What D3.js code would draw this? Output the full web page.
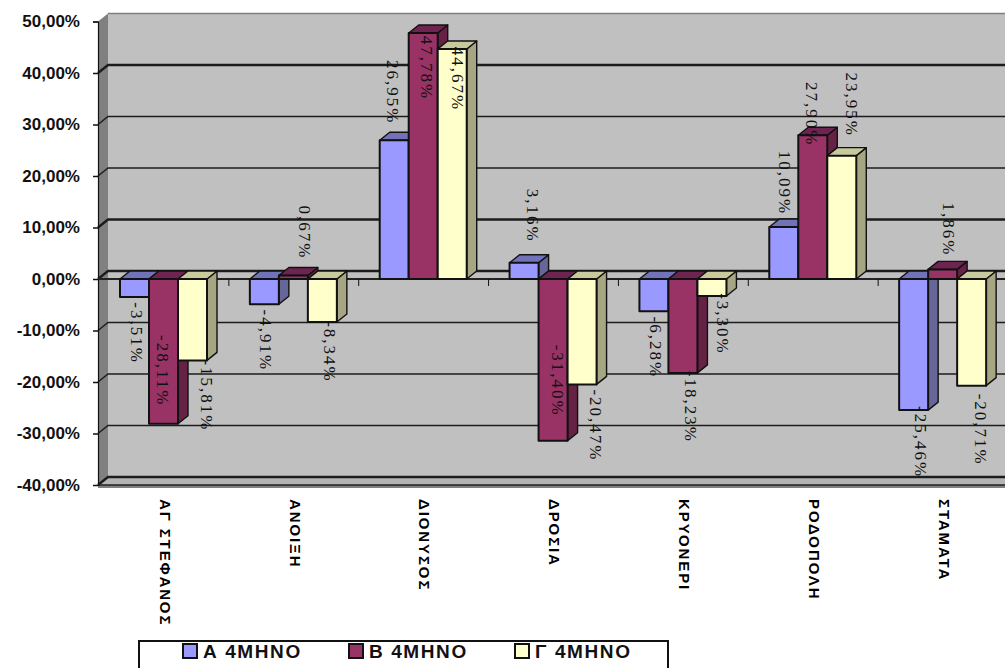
<!DOCTYPE html>
<html>
<head>
<meta charset="utf-8">
<script src="https://cdn.jsdelivr.net/npm/d3@7"></script>
<style>
html, body { margin: 0; padding: 0; background: #fff; }
svg { display: block; }
.ytick { font: bold 17px "Liberation Sans", sans-serif; }
.dlabel { font: 17px "Liberation Serif", serif; letter-spacing: 2px; fill: #111; }
.cat { font: bold 15px "Liberation Sans", sans-serif; letter-spacing: 1.9px; }
.leg { font: bold 19px "Liberation Sans", sans-serif; letter-spacing: 1.6px; }
</style>
</head>
<body>
<svg width="1005" height="668"></svg>
<script>
let categories = ["ΑΓ ΣΤΕΦΑΝΟΣ", "ΑΝΟΙΞΗ", "ΔΙΟΝΥΣΟΣ", "ΔΡΟΣΙΑ", "ΚΡΥΟΝΕΡΙ", "ΡΟΔΟΠΟΛΗ", "ΣΤΑΜΑΤΑ"];
let seriesNames = ["Α 4ΜΗΝΟ", "Β 4ΜΗΝΟ", "Γ 4ΜΗΝΟ"];
let valuesA = [-3.51, -4.91, 26.95, 3.16, -6.28, 10.09, -25.46];
let valuesB = [-28.11, 0.67, 47.78, -31.40, -18.23, 27.90, 1.86];
let valuesC = [-15.81, -8.34, 44.67, -20.47, -3.30, 23.95, -20.71];
let yTicks = [-40, -30, -20, -10, 0, 10, 20, 30, 40, 50];

// hand placement of the rotated value labels: distance from the bar end, and sideways shift
let labelDyA = [36, 36, -48, -47, 36, -44, 32];
let labelDyB = [-53, -43, 35, -60, 34, -21, -40];
let labelDyC = [35, 30, 30, 41, 28, -51, 44];
let labelDxA = [2, 2, -1, 9, 2, 1, 7];
let labelDxB = [-1, 12, 4, 5, 8, -1, 6];
let labelDxC = [14, 8, 6, 14, 11, 10, 9];

let front = { face: "#9999ff", side: "#666699", top: "#7272b8" };
let colors = [
    front,
    { face: "#993366", side: "#662244", top: "#6e2450" },
    { face: "#ffffcc", side: "#a6a682", top: "#c9c99e" }
];
let series = [valuesA, valuesB, valuesC];
let labelDy = [labelDyA, labelDyB, labelDyC];
let labelDx = [labelDxA, labelDxB, labelDxC];

let depthX = 10, depthY = -8;

let svg = d3.select("svg");
let x0 = d3.scaleBand().domain(categories).range([99, 1008]);
let x1 = d3.scaleBand().domain(d3.range(3)).range([21, 108]);
let y = d3.scaleLinear().domain([-40, 50]).range([485, 21.5]);

let locale = d3.formatLocale({ decimal: ",", thousands: ".", grouping: [3], currency: ["", ""], minus: "-" });
let fmt = locale.format(".2f");
let pct = d => fmt(d) + "%";

// walls
let left = x0.range()[0] - 1;
let backX = left + depthX;
svg.append("rect").attr("x", backX).attr("y", y(50) + depthY).attr("width", 1005 - backX)
    .attr("height", y(-40) - y(50)).attr("fill", "#c0c0c0");
svg.append("line").attr("x1", backX).attr("x2", 1005)
    .attr("y1", y(50) + depthY).attr("y2", y(50) + depthY).attr("stroke", "#808080").attr("stroke-width", 1.5);
svg.append("path")
    .attr("d", `M${left},${y(50)}L${backX},${y(50) + depthY}L${backX},${y(-40) + depthY}L1005,${y(-40) + depthY}L1005,${y(-40) + 3}L${left},${y(-40) + 3}Z`)
    .attr("fill", "#808080");
svg.append("path")
    .attr("d", `M${left},${y(-40)}L${backX},${y(-40) + depthY}L1005,${y(-40) + depthY}L1005,${y(-40)}Z`)
    .attr("fill", "#b4b4b4");

// gridlines, some come out heavier in the picture
let heavy = [40, 10, 0, -40];
yTicks.slice(0, -1).forEach(t => {
    svg.append("path")
        .attr("d", `M${left},${y(t)}L${backX},${y(t) + depthY}L1005,${y(t) + depthY}`)
        .attr("fill", "none").attr("stroke", "#1c1c1c")
        .attr("stroke-width", heavy.includes(t) ? 2.4 : 1.5);
});
svg.append("line").attr("x1", left).attr("x2", 1005).attr("y1", y(-40)).attr("y2", y(-40))
    .attr("stroke", "#222").attr("stroke-width", 1.5);

// y axis
let axis = svg.append("g").attr("transform", `translate(${left},0)`)
    .call(d3.axisLeft(y).tickValues(yTicks).tickSize(5).tickPadding(13).tickFormat(pct));
axis.selectAll("text").attr("class", "ytick").attr("fill", "#111");
axis.selectAll("line").attr("stroke", "#111").attr("stroke-width", 1.5);
axis.select(".domain").attr("stroke", "#111").attr("stroke-width", 1.2);

// zero line and its ticks
svg.append("line").attr("x1", left).attr("x2", 1005).attr("y1", y(0)).attr("y2", y(0))
    .attr("stroke", "#222").attr("stroke-width", 2);
svg.selectAll(".ztick").data(categories.slice(1)).enter().append("line")
    .attr("x1", d => x0(d)).attr("x2", d => x0(d))
    .attr("y1", y(0)).attr("y2", y(0) + 7)
    .attr("stroke", "#111");

// bars in 3d, painted group by group
let barG = svg.append("g");
categories.forEach((cat, i) => {
    series.forEach((vals, s) => {
        let v = vals[i];
        let bx = x0(cat) + x1(s);
        let w = x1.bandwidth();
        let t = y(Math.max(v, 0));
        let b = y(Math.min(v, 0));
        let g = barG.append("g").attr("stroke", "#111").attr("stroke-width", 1.4).attr("stroke-linejoin", "round");
        g.append("path")
            .attr("d", `M${bx + w},${t}L${bx + w + depthX},${t + depthY}L${bx + w + depthX},${b + depthY}L${bx + w},${b}Z`)
            .attr("fill", colors[s].side);
        g.append("path")
            .attr("d", `M${bx},${t}L${bx + depthX},${t + depthY}L${bx + w + depthX},${t + depthY}L${bx + w},${t}Z`)
            .attr("fill", colors[s].top);
        g.append("rect").attr("x", bx).attr("y", t).attr("width", w).attr("height", b - t)
            .attr("fill", colors[s].face).attr("stroke-width", 2);
    });
});

// value labels
categories.forEach((cat, i) => {
    series.forEach((vals, s) => {
        let v = vals[i];
        let lx = x0(cat) + x1(s) + x1.bandwidth() / 2 + labelDx[s][i];
        let ly = y(v) + labelDy[s][i];
        svg.append("text").attr("class", "dlabel")
            .attr("text-anchor", "middle")
            .attr("dy", "0.35em")
            .attr("transform", `translate(${lx},${ly}) rotate(90)`)
            .text(pct(v));
    });
});

// category labels
svg.selectAll(".cat").data(categories).enter().append("text")
    .attr("class", "cat")
    .attr("dy", "0.35em")
    .attr("transform", d => `translate(${x0(d) + x0.bandwidth() / 2 + 1},499) rotate(90)`)
    .text(d => d);

// legend
svg.append("rect").attr("x", 139).attr("y", 641).attr("width", 529).attr("height", 40)
    .attr("fill", "#fff").attr("stroke", "#111").attr("stroke-width", 2);
let legX = d3.scalePoint().domain(seriesNames).range([183, 515]);
let leg = svg.selectAll(".legitem").data(seriesNames).enter().append("g")
    .attr("transform", d => `translate(${legX(d)},651)`);
leg.append("rect").attr("x", 0).attr("y", -7).attr("width", 14).attr("height", 14)
    .attr("fill", (d, i) => colors[i].face).attr("stroke", "#111").attr("stroke-width", 2);
leg.append("text").attr("class", "leg").attr("x", 20).attr("dy", "0.36em").attr("fill", "#111").text(d => d);
</script>
</body>
</html>
